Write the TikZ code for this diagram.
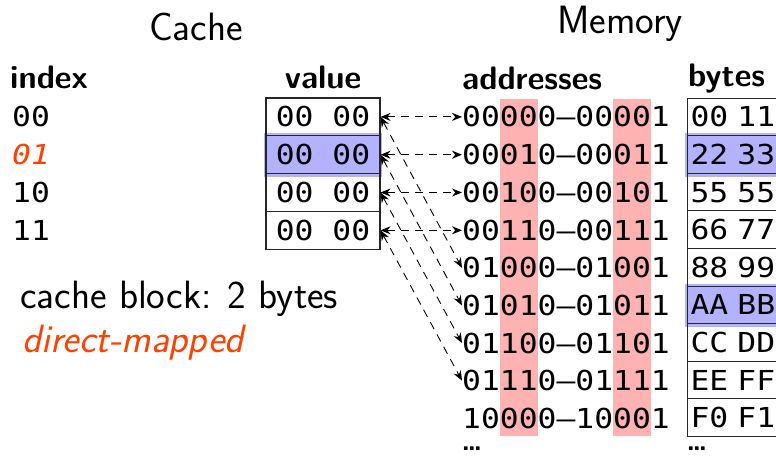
\documentclass[tikz,border=0pt]{standalone}
\usepackage{fontspec}
\newfontfamily\monof[FakeStretch=1.14]{DejaVu Sans Mono}
\usetikzlibrary{arrows.meta}
\definecolor{hired}{RGB}{255,178,178}
\definecolor{hiblue}{RGB}{178,178,255}
\definecolor{accent}{RGB}{255,64,0}
\newcommand{\tightdots}{.\kern-2.6pt.\kern-2.6pt.}
\begin{document}
\begin{tikzpicture}[x=1pt,y=-1pt,
  title/.style={font=\fontsize{39.5}{44}\selectfont\sffamily, anchor=base, inner sep=0},
  head/.style={font=\fontsize{32.5}{36}\selectfont\sffamily\bfseries, anchor=base west, inner sep=0},
  mono/.style={font=\fontsize{27.5}{30}\selectfont\monof, inner sep=0, text height=20pt, text depth=0pt},
  dots/.style={font=\fontsize{28}{30}\selectfont\sffamily\bfseries, inner sep=0, anchor=base west},
  cell/.style={mono, draw=black!85, line width=1.1pt, minimum width=114pt, minimum height=37.8pt, anchor=center},
  bcell/.style={mono, draw=black!85, line width=1.1pt, minimum height=37.6pt, text width=110pt, align=left, inner xsep=3pt, anchor=west},
  link/.style={{Stealth[length=10pt,width=8pt]}-{Stealth[length=10pt,width=8pt]}, line width=0.9pt, dash pattern=on 8pt off 6pt}
]
\useasboundingbox (0,0) rectangle (776,455);
\clip (0,0) rectangle (776,455);

% titles
\node[title] (tcache) at (196,40) {Cache};
\node[title] (tmem) at (620,33) {Memory};

% headers
\node[head] (hindex) at (10,88) {index};
\node[head, anchor=base] (hvalue) at (323,88) {value};
\node[head] (haddr) at (462,89) {addresses};
\node[head] (hbytes) at (688,86) {bytes};

% highlights
\fill[hiblue] (264,133) rectangle (382,176.5);
\fill[hired] (499.7,99) rectangle (537.5,435.5);
\fill[hired] (613,99) rectangle (650.8,435.5);
\fill[hiblue] (685,133) rectangle (790,176.5);
\fill[hiblue] (685,283.5) rectangle (790,327);

% index labels
\node[mono, anchor=west] (i1) at (12,116.9) {00};
\node[mono, anchor=west, text=accent] (i2) at (12,154.7) {\itshape 01};
\node[mono, anchor=west] (i3) at (12,192.5) {10};
\node[mono, anchor=west] (i4) at (12,230.3) {11};

% cache cells
\node[cell] (c1) at (323,116.9) {00 00};
\node[cell] (c2) at (323,154.7) {00 00};
\node[cell] (c3) at (323,192.5) {00 00};
\node[cell] (c4) at (323,230.3) {00 00};

% addresses
\node[mono, anchor=west] (a1) at (462,116.9) {00000–00001};
\node[mono, anchor=west] (a2) at (462,154.7) {00010–00011};
\node[mono, anchor=west] (a3) at (462,192.5) {00100–00101};
\node[mono, anchor=west] (a4) at (462,230.3) {00110–00111};
\node[mono, anchor=west] (a5) at (462,267.9) {01000–01001};
\node[mono, anchor=west] (a6) at (462,305.5) {01010–01011};
\node[mono, anchor=west] (a7) at (462,343.1) {01100–01101};
\node[mono, anchor=west] (a8) at (462,380.7) {01110–01111};
\node[mono, anchor=west] (a9) at (462,418.3) {10000–10001};
\node[dots] (adots) at (461.5,450.5) {\tightdots};

% bytes
\node[bcell] (b1) at (687,116.9) {00 11};
\node[bcell] (b2) at (687,154.5) {22 33};
\node[bcell] (b3) at (687,192.1) {55 55};
\node[bcell] (b4) at (687,229.7) {66 77};
\node[bcell] (b5) at (687,267.3) {88 99};
\node[bcell] (b6) at (687,304.9) {AA BB};
\node[bcell] (b7) at (687,342.5) {CC DD};
\node[bcell] (b8) at (687,380.1) {EE FF};
\node[bcell] (b9) at (687,417.7) {F0 F1};
\node[dots] (bdots) at (686.5,450.5) {\tightdots};

% links
\draw[link] (c1.east) -- (a1.west);
\draw[link] (c2.east) -- (a2.west);
\draw[link] (c3.east) -- (a3.west);
\draw[link] (c4.east) -- (a4.west);
\draw[link] (c1.east) -- (a5.west);
\draw[link] (c2.east) -- (a6.west);
\draw[link] (c3.east) -- (a7.west);
\draw[link] (c4.east) -- (a8.west);

% notes
\node[font=\fontsize{39.5}{44}\selectfont\sffamily, anchor=base west, inner sep=0] (note1) at (20,308) {cache block: 2 bytes};
\node[font=\fontsize{39.5}{44}\selectfont\sffamily\itshape, text=accent, anchor=base west, inner sep=0] (note2) at (22,352) {direct-mapped};
\end{tikzpicture}
\end{document}
